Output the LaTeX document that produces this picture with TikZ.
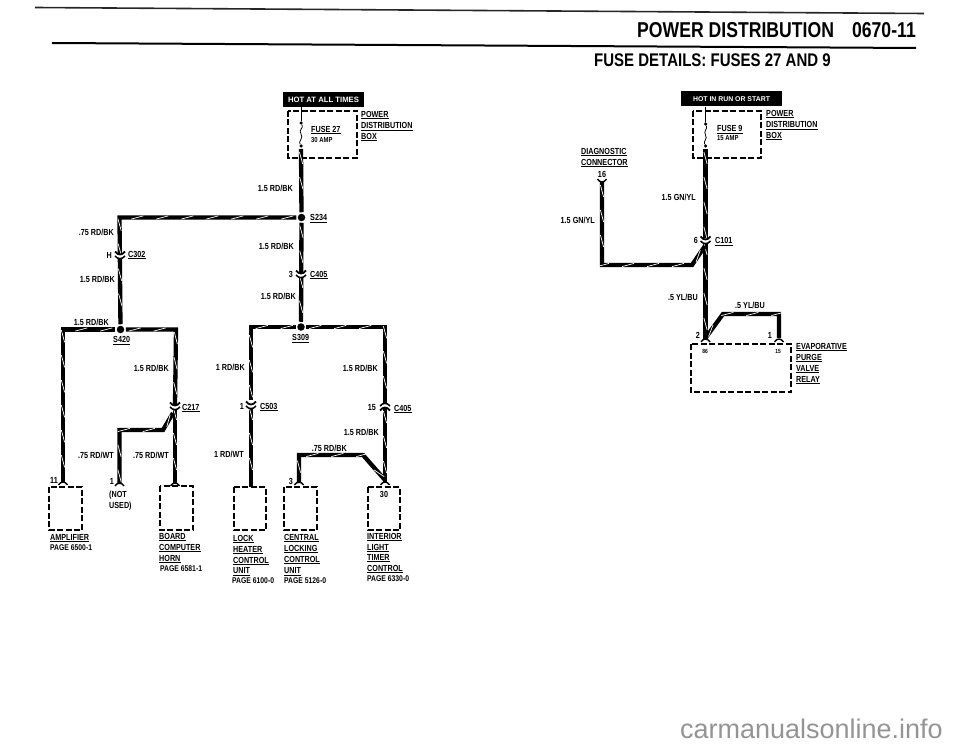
\documentclass[tikz,border=0pt]{standalone}
\usepackage{fontspec}
\setmainfont{Liberation Sans}
\newfontfamily\condf[FakeStretch=0.82]{Liberation Sans}
\usetikzlibrary{calc,decorations.markings}
\tikzset{
 x=1pt,y=-1pt,
 wire/.style={line width=4.3pt,black,line join=miter,line cap=butt,
   postaction={decorate,decoration={markings,mark=between positions 9pt and -5pt step 25pt with {\draw[white,line width=.7pt] (-6pt,-1.6pt) -- (6pt,1.6pt);}}}},
 thin wire/.style={line width=1pt,black},
 box/.style={line width=1.4pt,black,dash pattern=on 6pt off 2.5pt},
 lab/.style={font=\condf\bfseries\fontsize{8.8}{9}\selectfont,inner sep=0pt,black},
 ulab/.style={lab,anchor=west},
 plab/.style={lab,anchor=west,font=\condf\bfseries\fontsize{8.3}{9}\selectfont},
 amplab/.style={lab,anchor=west,font=\condf\bfseries\fontsize{7.2}{8}\selectfont},
 pinlab/.style={lab,font=\condf\bfseries\fontsize{6}{7}\selectfont},
 banner/.style={fill=black,text=white,inner sep=0pt,minimum height=15pt},
 dot/.style={circle,fill=black,inner sep=0pt,minimum size=7.5pt,outer sep=1.5pt},
 smalldot/.style={circle,fill=black,inner sep=0pt,minimum size=3.5pt},
}
\newcommand{\wirepath}[1]{\draw[wire] #1;}
\newcommand{\ulabel}[4]{\node[ulab] (#1) at (#2,#3) {#4}; \draw[line width=.7pt] ($(#1.south west)+(0,1.4)$) -- ($(#1.south east)+(0,1.4)$);}
\newcommand{\conn}[3]{% pair of smile arcs at x,y
 \node[inner sep=0pt,minimum size=0pt] (#1) at (#2,#3) {};
 \fill[white] (#2-6,#3-.5) rectangle (#2+6,#3+3);
 \draw[line width=1.8pt] (#2-5,#3-3.5) .. controls (#2-2,#3+.5) and (#2+2,#3+.5) .. (#2+5,#3-3.5);
 \draw[line width=1.5pt] (#2-5,#3+1) .. controls (#2-2,#3+4.5) and (#2+2,#3+4.5) .. (#2+5,#3+1);}
\newcommand{\connup}[3]{% pair of frown arcs at x,y
 \node[inner sep=0pt,minimum size=0pt] (#1) at (#2,#3) {};
 \fill[white] (#2-6,#3-3) rectangle (#2+6,#3+.5);
 \draw[line width=1.5pt] (#2-5,#3-1) .. controls (#2-2,#3-4.5) and (#2+2,#3-4.5) .. (#2+5,#3-1);
 \draw[line width=1.8pt] (#2-5,#3+3.5) .. controls (#2-2,#3-.5) and (#2+2,#3-.5) .. (#2+5,#3+3.5);}
\newcommand{\termarc}[3]{% terminal arc
 \node[inner sep=0pt,minimum size=0pt] (#1) at (#2,#3) {};
 \draw[line width=1.4pt] (#2-4.5,#3+2) .. controls (#2-2,#3-2) and (#2+2,#3-2) .. (#2+4.5,#3+2);}
\newcommand{\termdown}[3]{% terminal arc opening upward
 \node[inner sep=0pt,minimum size=0pt] (#1) at (#2,#3) {};
 \draw[line width=1.4pt] (#2-4.5,#3-2) .. controls (#2-2,#3+2) and (#2+2,#3+2) .. (#2+4.5,#3-2);}
\newcommand{\rlab}[4]{\node[lab,anchor=east] (#1) at (#2,#3) {#4};}
\begin{document}
\begin{tikzpicture}
\useasboundingbox (0,0) rectangle (960,746);
% header
\coordinate (ta) at (35,7.5); \coordinate (tb) at (924,13.5);
\draw[line width=1.6pt,black!85] (ta) -- (tb);
\coordinate (ra) at (52,43); \coordinate (rb) at (916,48);
\draw[line width=2pt] (ra) -- (rb);
\node[font=\condf\bfseries\fontsize{21.5}{23}\selectfont,anchor=east,inner sep=0pt] (head) at (916,30) {POWER DISTRIBUTION\hspace{18pt}0670-11};
\node[font=\condf\bfseries\fontsize{18.3}{20}\selectfont,anchor=west,inner sep=0pt] (sub) at (594,60) {FUSE DETAILS: FUSES 27 AND 9};
% --- left diagram
\node[banner,minimum width=81pt,font=\bfseries\fontsize{7.7}{8}\selectfont] (hot1) at (323.5,99.5) {HOT AT ALL TIMES};
\draw[box] (288,111) rectangle (357,158);
\node[smalldot] (f1a) at (301,123) {}; \node[smalldot] (f1b) at (301,146) {};
\draw[thin wire] (hot1.south -| f1a) -- (f1a);
\draw[line width=.8pt] (f1a) .. controls (304,128) and (298,130) .. (301,134) .. controls (304,138) and (298,141) .. (f1b);
\ulabel{fz}{311}{129}{FUSE 27}
\node[amplab] (amp1) at (311,140) {30 AMP};
\ulabel{pd1}{361}{114}{POWER}\ulabel{pd2}{361}{125.5}{DISTRIBUTION}\ulabel{pd3}{361}{136}{BOX}
\node[dot] (s234) at (301.5,217.5) {};
\node[dot] (s309) at (301,327) {};
\node[dot] (s420) at (120.5,329.5) {};
\ulabel{l234}{310}{217.5}{S234}
\ulabel{l309}{292}{337.5}{S309}
\ulabel{l420}{113}{339.5}{S420}
\coordinate (f1s) at (301,149);
\wirepath{(f1s) -- (s234)}
\wirepath{(s234) -- (s309)}
\wirepath{(s234) -- (119.5,217.5) -- (s420)}
\wirepath{(s420) -- (176,329.5) -- (175,405)}
\wirepath{(s420) -- (63,329.5) -- (63,483)}
\wirepath{(175,405) -- (175,484)}
\wirepath{(173,413) -- (163,430) -- (119.5,430) -- (119.5,484)}
\wirepath{(s309) -- (251,327) -- (251,400)}
\wirepath{(s309) -- (385,327) -- (385,405)}
\wirepath{(251,405) -- (251,487)}
\wirepath{(385,408) -- (385,483)}
\wirepath{(385,480) -- (363,455) -- (299,455) -- (299,483)}
\conn{c302}{120}{255}\conn{c405a}{301}{274}\conn{c217}{175}{406}\conn{c503}{251}{405}
\connup{c405b}{385}{407}
\termarc{t1}{63}{483}\termarc{t2}{119.5}{484}\termarc{t3}{175}{484}\termarc{t5}{299}{483}\termarc{t6}{385}{483}
% boxes
\draw[box] (49,487) rectangle (82,530);
\draw[box] (160,486) rectangle (193,530);
\draw[box] (234,487) rectangle (266,530);
\draw[box] (284,487) rectangle (317,530);
\draw[box] (368,487) rectangle (400,530);
% labels left
\rlab{a1}{293}{188}{1.5 RD/BK}
\rlab{a2}{294}{246}{1.5 RD/BK}
\rlab{a3}{296}{296}{1.5 RD/BK}
\rlab{a4}{114}{232}{.75 RD/BK}
\rlab{a5}{115}{279}{1.5 RD/BK}
\rlab{a6}{109}{322}{1.5 RD/BK}
\rlab{a7}{169}{368}{1.5 RD/BK}
\rlab{a8}{245}{367}{1 RD/BK}
\rlab{a9}{378}{368}{1.5 RD/BK}
\rlab{a10}{379}{432}{1.5 RD/BK}
\rlab{a11}{114}{455}{.75 RD/WT}
\rlab{a12}{169}{455}{.75 RD/WT}
\rlab{a13}{244}{454}{1 RD/WT}
\rlab{a14}{347}{448}{.75 RD/BK}
\rlab{n1}{112}{255}{H}\rlab{n2}{293}{274}{3}\rlab{n3}{244}{406}{1}\rlab{n4}{376}{408}{15}
\rlab{n5}{58}{480}{11}\rlab{n6}{114}{481}{1}\rlab{n7}{293}{481}{3}
\ulabel{c1}{128}{254}{C302}\ulabel{c2}{310}{274}{C405}\ulabel{c3}{182}{407}{C217}\ulabel{c4}{260}{406}{C503}\ulabel{c5}{394}{408}{C405}
\node[lab,anchor=north west,align=left,font=\condf\bfseries\fontsize{8.8}{11}\selectfont] (nu) at (109,491) {(NOT\\USED)};
\node[lab] (t30) at (384,494) {30};
\ulabel{b1}{50}{537}{AMPLIFIER}\node[plab] (b1p) at (50,547.5) {PAGE 6500-1};
\ulabel{b2}{159}{536}{BOARD}\ulabel{b3}{159}{547}{COMPUTER}\ulabel{b4}{159}{558}{HORN}\node[plab] (b4p) at (160,569) {PAGE 6581-1};
\ulabel{d1}{233}{538}{LOCK}\ulabel{d2}{233}{549}{HEATER}\ulabel{d3}{233}{560}{CONTROL}\ulabel{d4}{233}{571}{UNIT}\node[plab] (d5) at (232,581) {PAGE 6100-0};
\ulabel{e1}{284}{537}{CENTRAL}\ulabel{e2}{284}{548}{LOCKING}\ulabel{e3}{284}{559}{CONTROL}\ulabel{e4}{284}{571}{UNIT}\node[plab] (e5) at (284,581) {PAGE 5126-0};
\ulabel{g1}{367}{536}{INTERIOR}\ulabel{g2}{367}{547}{LIGHT}\ulabel{g3}{367}{557}{TIMER}\ulabel{g4}{367}{568}{CONTROL}\node[plab] (g5) at (367,579) {PAGE 6330-0};
% --- right diagram
\node[banner,minimum width=101pt,font=\bfseries\fontsize{6.9}{8}\selectfont] (hot2) at (731.5,99) {HOT IN RUN OR START};
\draw[box] (693,111) rectangle (761,158);
\node[smalldot] (f2a) at (705.5,124) {}; \node[smalldot] (f2b) at (705.5,146) {};
\draw[thin wire] (hot2.south -| f2a) -- (f2a);
\draw[line width=.8pt] (f2a) .. controls (708,129) and (703,131) .. (705.5,135) .. controls (708,139) and (703,141) .. (f2b);
\ulabel{fy}{717}{128.5}{FUSE 9}
\node[amplab] (amp2) at (717,138) {15 AMP};
\ulabel{q1}{766}{113}{POWER}\ulabel{q2}{766}{124.5}{DISTRIBUTION}\ulabel{q3}{766}{135}{BOX}
\ulabel{k1}{581}{151}{DIAGNOSTIC}\ulabel{k2}{581}{162}{CONNECTOR}
\node[lab] (n16) at (602,174) {16};
\coordinate (f2s) at (705.5,149);
\wirepath{(f2s) -- (705.5,238)}
\wirepath{(705.5,240) -- (705.5,340)}
\wirepath{(602,182) -- (602,265) -- (692,265) -- (705,246)}
\wirepath{(705.5,338) -- (723,314) -- (779,314) -- (779,338)}
\conn{c101}{705.5}{240}
\termdown{t7}{602}{181}\termarc{t8}{705.5}{340}\termarc{t9}{779}{340}
\draw[box] (691,344) rectangle (791,392);
\rlab{m1}{696}{197}{1.5 GN/YL}
\rlab{m2}{595}{220}{1.5 GN/YL}
\rlab{m3}{698}{297}{.5 YL/BU}
\node[lab,anchor=west] (m4) at (735,305) {.5 YL/BU};
\rlab{m5}{698}{240}{6}\rlab{m6}{700}{335}{2}\rlab{m7}{772}{335}{1}
\ulabel{c6}{715}{240.5}{C101}
\node[pinlab] (p86) at (705,351) {86};
\node[pinlab] (p15) at (778,351) {15};
\ulabel{v1}{796}{346}{EVAPORATIVE}\ulabel{v2}{796}{357}{PURGE}\ulabel{v3}{796}{368}{VALVE}\ulabel{v4}{796}{379}{RELAY}
\node[font=\fontsize{27}{28}\selectfont,anchor=east,text=black!42,inner sep=0pt] (wm) at (943,729) {carmanualsonline.info};
\end{tikzpicture}
\end{document}
